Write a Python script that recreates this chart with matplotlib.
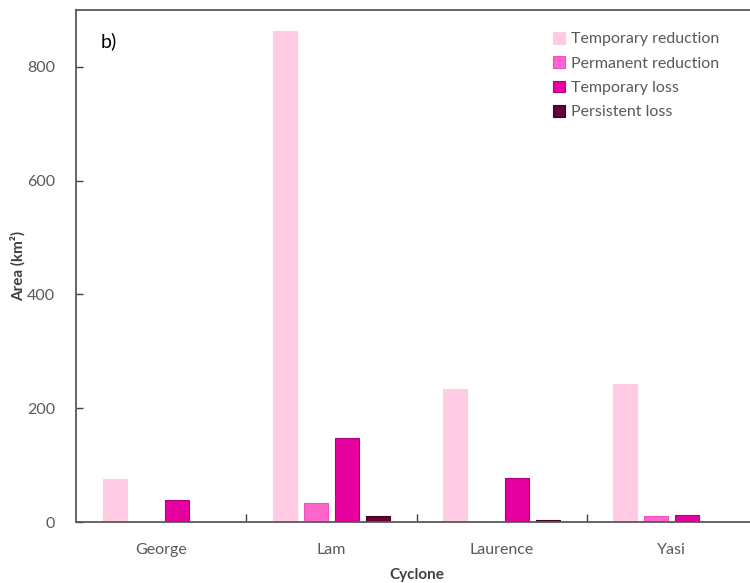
import matplotlib
matplotlib.use("Agg")
import matplotlib.pyplot as plt
import numpy as np

cyclones = ["George", "Lam", "Laurence", "Yasi"]
series_names = ["Temporary reduction", "Permanent reduction", "Temporary loss", "Persistent loss"]
temporary_reduction = [76, 863, 234, 243]
permanent_reduction = [0, 33, 0, 11]
temporary_loss = [38, 148, 77, 13]
persistent_loss = [0, 11, 3, 0]

colors = ["#FFCCE3", "#FF66CC", "#E600A0", "#660033"]
edges = ["#FFCCE3", "#F050BE", "#B0007A", "#40001F"]

plt.rcParams['font.family'] = ['Lato', 'DejaVu Sans']

fig = plt.figure(figsize=(7.5, 5.83), dpi=100)
W, H = 750, 583
left, right, top, bottom = 76, 757, 10, 522
ax = fig.add_axes([left / W, 1 - bottom / H, (right - left) / W, (bottom - top) / H])

x = np.arange(len(cyclones))
offsets = [-0.273, -0.091, 0.091, 0.273]
width = 0.14
data = [temporary_reduction, permanent_reduction, temporary_loss, persistent_loss]
for vals, off, c, e, name in zip(data, offsets, colors, edges, series_names):
    ax.bar(x + off, vals, width, color=c, edgecolor=e, linewidth=0.8, label=name)

ax.set_xlim(-0.5, 3.5)
ax.set_ylim(0, 900)

ax.set_yticks([0, 200, 400, 600, 800])
ax.set_xticks([0.5, 1.5, 2.5])
ax.set_xticklabels([])
ax.set_xticks(x, minor=True)
ax.set_xticklabels(cyclones, minor=True)
ax.tick_params(axis='x', which='minor', length=0, pad=15, labelsize=11.5, labelcolor="#595959")
ax.tick_params(axis='x', which='major', direction='in', length=6, width=1, color="#404040")
ax.tick_params(axis='y', direction='in', length=5, width=1, color="#404040", pad=15,
               labelsize=11.5, labelcolor="#595959")

for s in ['left', 'top', 'bottom']:
    ax.spines[s].set_color("#595959")
    ax.spines[s].set_linewidth(1.3)
ax.spines['right'].set_visible(False)

ax.set_xlabel("Cyclone", fontsize=11, fontweight='bold', color="#404040", labelpad=8)
ax.set_ylabel("Area (km²)", fontsize=11, fontweight='bold', color="#404040", labelpad=1)

ax.text(0.036, 0.94, "b)", transform=ax.transAxes, fontsize=14, color="black", va='center')

leg = ax.legend(loc='upper left', bbox_to_anchor=((553 - left) / (right - left), 1 - (32 - top) / (bottom - top)),
                frameon=False, fontsize=11.5, handlelength=0.75, handleheight=0.75,
                handletextpad=0.4, labelspacing=0.62, borderaxespad=0, borderpad=0)
for t in leg.get_texts():
    t.set_color("#595959")

fig.savefig("out.png", dpi=100)
